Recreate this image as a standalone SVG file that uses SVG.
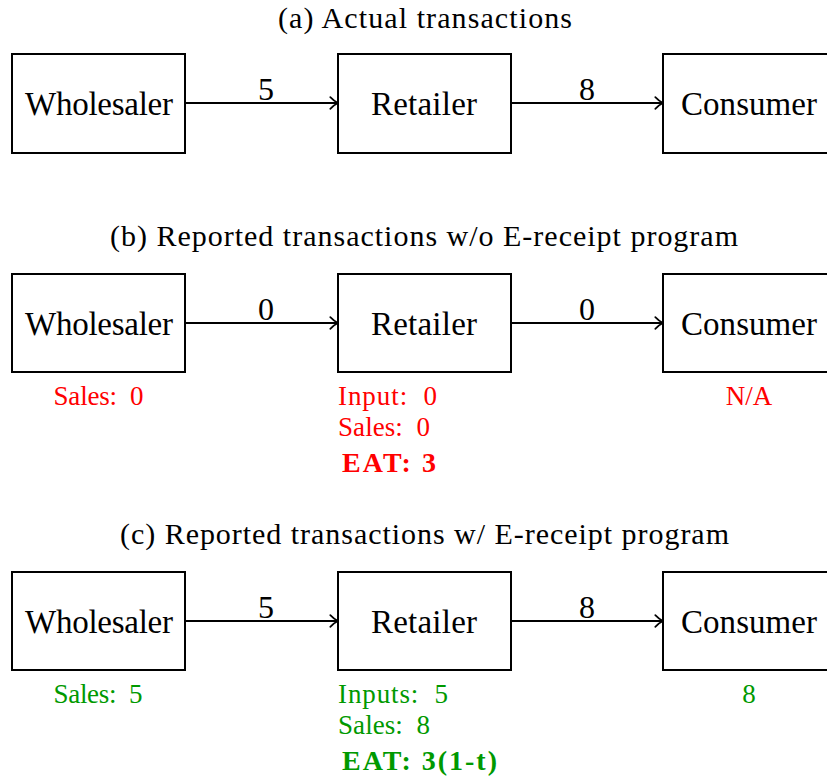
<svg xmlns="http://www.w3.org/2000/svg" width="827" height="780" viewBox="0 0 827 780">
<defs>
<marker id="arr" viewBox="0 0 10 14" refX="9.2" refY="7" markerWidth="10" markerHeight="14" markerUnits="userSpaceOnUse" orient="auto">
<path d="M1.5,1.2 Q5,5 9.2,7 Q5,9 1.5,12.8" fill="none" stroke="#000" stroke-width="1.7" stroke-linecap="round"/>
</marker>
<style>
.box{fill:#fff;stroke:#000;stroke-width:2}
.lbl{font-family:"Liberation Serif","DejaVu Serif",serif;font-size:33px;text-anchor:middle;fill:#000}
.ttl{font-family:"Liberation Serif","DejaVu Serif",serif;font-size:30px;text-anchor:middle;fill:#000}
.num{font-family:"Liberation Serif","DejaVu Serif",serif;font-size:32px;text-anchor:middle;fill:#000}
.sub{font-family:"Liberation Serif","DejaVu Serif",serif;font-size:27px;white-space:pre}
.bold{font-weight:bold;font-size:28px}
.red{fill:#ff0000}
.grn{fill:#009900}
.mid{text-anchor:middle}
.edge{fill:none;stroke:#000;stroke-width:2;marker-end:url(#arr)}
</style>
</defs>
<rect width="827" height="780" fill="#fff"/>

<text class="ttl" x="425" y="27.5" textLength="294">(a) Actual transactions</text>
<text class="ttl" x="424" y="246" textLength="628">(b) Reported transactions w/o E-receipt program</text>
<text class="ttl" x="424.5" y="544" textLength="609">(c) Reported transactions w/ E-receipt program</text>

<g id="connectors">
<line class="edge" x1="185" y1="103" x2="338" y2="103"/>
<line class="edge" x1="511" y1="103" x2="663" y2="103"/>
<line class="edge" x1="185" y1="323" x2="338" y2="323"/>
<line class="edge" x1="511" y1="323" x2="663" y2="323"/>
<line class="edge" x1="185" y1="621" x2="338" y2="621"/>
<line class="edge" x1="511" y1="621" x2="663" y2="621"/>
<text class="num" x="266" y="100">5</text>
<text class="num" x="587" y="100">8</text>
<text class="num" x="266" y="320">0</text>
<text class="num" x="587" y="320">0</text>
<text class="num" x="266" y="618">5</text>
<text class="num" x="587" y="618">8</text>
</g>

<g id="a-wholesaler"><rect class="box" x="12" y="54" width="173" height="99"/><text class="lbl" x="99" y="115" textLength="148">Wholesaler</text></g>
<g id="a-retailer"><rect class="box" x="338" y="54" width="173" height="99"/><text class="lbl" x="424" y="115" textLength="106">Retailer</text></g>
<g id="a-consumer"><rect class="box" x="663" y="54" width="173" height="99"/><text class="lbl" x="749" y="115" textLength="136">Consumer</text></g>

<g id="b-wholesaler"><rect class="box" x="12" y="274" width="173" height="98"/><text class="lbl" x="99" y="335" textLength="148">Wholesaler</text>
<text class="sub red mid" x="98.5" y="405" textLength="90">Sales:  0</text></g>
<g id="b-retailer"><rect class="box" x="338" y="274" width="173" height="98"/><text class="lbl" x="424" y="335" textLength="106">Retailer</text>
<text class="sub red" x="338" y="405" textLength="99">Input:  0</text>
<text class="sub red" x="338" y="436" textLength="92">Sales:  0</text>
<text class="sub red bold" x="342" y="472" textLength="94">EAT: 3</text></g>
<g id="b-consumer"><rect class="box" x="663" y="274" width="173" height="98"/><text class="lbl" x="749" y="335" textLength="136">Consumer</text>
<text class="sub red mid" x="749" y="405">N/A</text></g>

<g id="c-wholesaler"><rect class="box" x="12" y="572" width="173" height="98"/><text class="lbl" x="99" y="633" textLength="148">Wholesaler</text>
<text class="sub grn mid" x="98" y="703" textLength="89">Sales:  5</text></g>
<g id="c-retailer"><rect class="box" x="338" y="572" width="173" height="98"/><text class="lbl" x="424" y="633" textLength="106">Retailer</text>
<text class="sub grn" x="338" y="703" textLength="110">Inputs:  5</text>
<text class="sub grn" x="338" y="734" textLength="92">Sales:  8</text>
<text class="sub grn bold" x="342" y="770" textLength="155">EAT: 3(1-t)</text></g>
<g id="c-consumer"><rect class="box" x="663" y="572" width="173" height="98"/><text class="lbl" x="749" y="633" textLength="136">Consumer</text>
<text class="sub grn mid" x="749" y="703">8</text></g>
</svg>
